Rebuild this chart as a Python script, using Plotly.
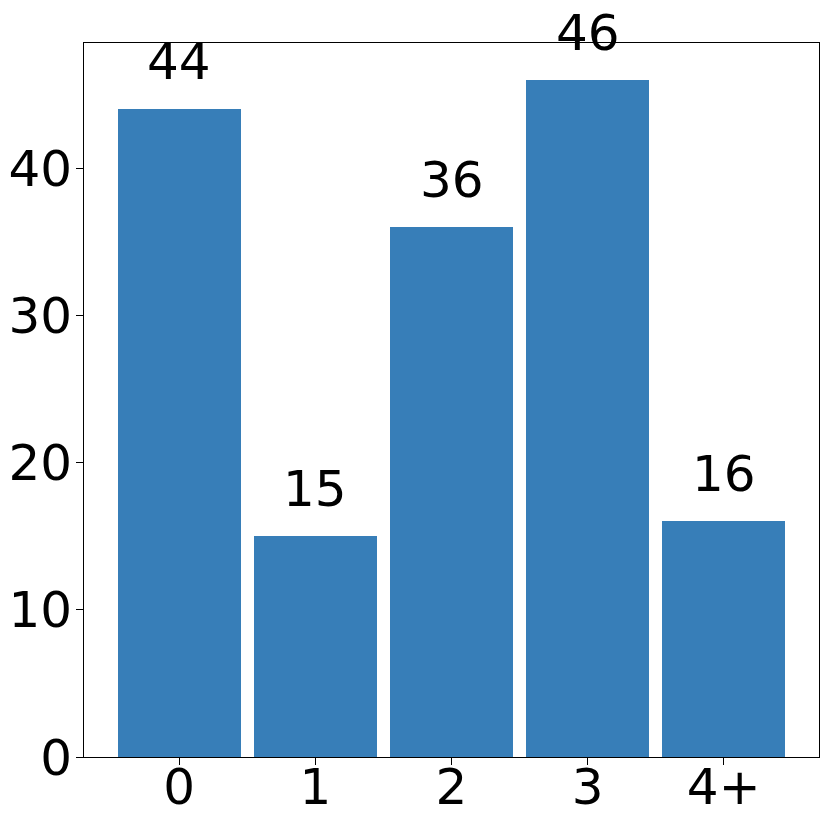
import plotly.graph_objects as go

categories = ["0", "1", "2", "3", "4+"]
counts = [44, 15, 36, 46, 16]

BAR_COLOR = "#377eb8"
FONT = "DejaVu Sans"
FSIZE = 50

fig = go.Figure()

fig.add_trace(go.Bar(
    x=list(range(len(categories))),
    y=counts,
    width=0.9,
    marker=dict(color=BAR_COLOR, line=dict(width=0)),
    hoverinfo="skip",
))

# value labels above each bar
for i, v in enumerate(counts):
    fig.add_annotation(
        x=i, y=v, text=str(v),
        showarrow=False, yanchor="bottom", yshift=16,
        font=dict(family=FONT, size=FSIZE, color="black"),
    )

# the page body has an 8px margin, so the figure is a bit smaller than the window
fig.update_layout(
    width=822, height=819,
    paper_bgcolor="white",
    plot_bgcolor="white",
    font=dict(family=FONT, size=FSIZE, color="black"),
    margin=dict(l=76, r=11, t=35, b=70),
    showlegend=False,
    bargap=0,
)

fig.update_xaxes(
    range=[-0.7, 4.7],
    tickmode="array",
    tickvals=list(range(len(categories))),
    ticktext=categories,
    showgrid=False, zeroline=False, automargin=False,
    showline=True, linecolor="black", linewidth=1, mirror=True,
    ticks="outside", ticklen=7, tickcolor="black",
    ticklabelstandoff=-21,
    tickfont=dict(family=FONT, size=FSIZE, color="black"),
)
fig.update_yaxes(
    range=[0, 48.5],
    tickvals=[0, 10, 20, 30, 40],
    showgrid=False, zeroline=False, automargin=False,
    showline=True, linecolor="black", linewidth=1, mirror=True,
    ticks="outside", ticklen=7, tickcolor="black",
    ticklabelstandoff=-6,
    tickfont=dict(family=FONT, size=FSIZE, color="black"),
)

fig.write_html("out.html")
